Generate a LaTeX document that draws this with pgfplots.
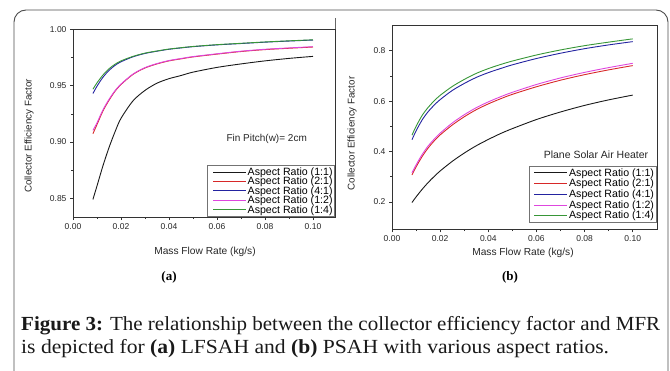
\documentclass[border=0pt]{standalone}
\usepackage{fontspec}
\setmainfont{Liberation Sans}
\newfontfamily\serif{Liberation Serif}
\usepackage{pgfplots}
\pgfplotsset{compat=1.18}
\definecolor{cblack}{RGB}{25,25,25}
\definecolor{cred}{RGB}{215,40,40}
\definecolor{cblue}{RGB}{35,35,160}
\definecolor{cmag}{RGB}{222,70,222}
\definecolor{cgreen}{RGB}{55,150,55}
\pgfplotsset{
  mystyle/.style={
    scale only axis,
    axis line style={black!80, line width=0.8pt},
    tick style={black!80, line width=0.6pt},
    tick align=outside, tick pos=left,
    major tick length=3pt, minor tick length=1.8pt,
    minor tick num=1,
    tick label style={font=\fontsize{8.5}{9}\selectfont, text=black!85},
    /pgf/number format/assume math mode=true,
    xtick={0,0.02,0.04,0.06,0.08,0.1},
    xticklabel style={/pgf/number format/.cd, fixed, fixed zerofill, precision=2},
    scaled ticks=false,
    legend cell align=left,
    legend image code/.code={\draw[##1, line width=1pt] (4pt,0pt) -- (37pt,0pt); \path (0pt,0pt);},
    legend style={draw=black!55, line width=0.5pt, font=\fontsize{10.6}{10.6}\selectfont,
      inner sep=1pt, row sep=-2.1pt, nodes={inner sep=1.2pt}},
    every axis plot/.append style={line width=0.9pt, smooth, no markers},
  }
}
\begin{document}
\begin{tikzpicture}
\path[use as bounding box] (0pt,0pt) rectangle (670pt,370pt);
% frame
\draw[black!70, line width=0.9pt, rounded corners=12pt] (14pt,-10pt) -- (14pt,360pt) -- (668pt,360pt) -- (668pt,-10pt);
\draw[black!60, line width=0.6pt] (335.5pt,352pt) -- (335.5pt,153pt);

% ---------- panel (a)
\begin{axis}[mystyle, at={(73pt,153pt)}, anchor=south west, width=262pt, height=188pt,
  xmin=0, xmax=0.10917, ymin=0.8334, ymax=1.0003,
  ytick={0.85,0.90,0.95,1.00},
  yticklabel style={/pgf/number format/.cd, fixed, fixed zerofill, precision=2},
  legend style={at={(1,0)}, anchor=south east}]
\addplot[cblack] coordinates {(0.0083,0.849)(0.01,0.861)(0.0125,0.879)(0.015,0.895)(0.0175,0.909)(0.02,0.921)(0.025,0.9365)(0.03,0.9458)(0.035,0.9522)(0.04,0.9562)(0.045,0.9590)(0.05,0.9620)(0.06,0.9662)(0.07,0.9693)(0.08,0.9720)(0.09,0.9742)(0.1,0.9760)};
\addlegendentry{Aspect Ratio (1:1)}
\addplot[cred] coordinates {(0.0083,0.9073)(0.01,0.9155)(0.0125,0.9276)(0.015,0.937)(0.0175,0.945)(0.02,0.951)(0.025,0.960)(0.03,0.9657)(0.035,0.9693)(0.04,0.972)(0.045,0.9738)(0.05,0.9755)(0.06,0.978)(0.07,0.9803)(0.08,0.982)(0.09,0.9832)(0.1,0.9843)};
\addlegendentry{Aspect Ratio (2:1)}
\addplot[cblue] coordinates {(0.0083,0.9430)(0.01,0.9495)(0.0125,0.9575)(0.015,0.9635)(0.0175,0.9680)(0.02,0.9712)(0.025,0.9756)(0.03,0.9786)(0.035,0.9806)(0.04,0.9823)(0.045,0.9835)(0.05,0.9846)(0.06,0.9862)(0.07,0.9874)(0.08,0.9886)(0.09,0.9896)(0.1,0.9905)};
\addlegendentry{Aspect Ratio (4:1)}
\addplot[cmag] coordinates {(0.0083,0.9103)(0.01,0.9170)(0.0125,0.9286)(0.015,0.9378)(0.0175,0.9455)(0.02,0.9514)(0.025,0.9603)(0.03,0.9660)(0.035,0.9696)(0.04,0.9723)(0.045,0.9741)(0.05,0.9758)(0.06,0.9783)(0.07,0.9806)(0.08,0.9823)(0.09,0.9835)(0.1,0.9846)};
\addlegendentry{Aspect Ratio (1:2)}
\addplot[cgreen] coordinates {(0.0083,0.9468)(0.01,0.9525)(0.0125,0.9595)(0.015,0.9650)(0.0175,0.9690)(0.02,0.9720)(0.025,0.9760)(0.03,0.9789)(0.035,0.9808)(0.04,0.9825)(0.045,0.9837)(0.05,0.9848)(0.06,0.9864)(0.07,0.9876)(0.08,0.9888)(0.09,0.9898)(0.1,0.9907)};
\addlegendentry{Aspect Ratio (1:4)}
\end{axis}

% ---------- panel (b)
\begin{axis}[mystyle, at={(392pt,140.7pt)}, anchor=south west, width=265.5pt, height=204.3pt,
  xmin=0, xmax=0.1103, ymin=0.0917, ymax=0.902,
  ytick={0.2,0.4,0.6,0.8},
  yticklabel style={/pgf/number format/.cd, fixed, fixed zerofill, precision=1},
  legend style={at={(0.996,0.032)}, anchor=south east, row sep=-0.9pt}]
\addplot[cblack] coordinates {(0.0083,0.198)(0.01,0.220)(0.0125,0.250)(0.015,0.277)(0.0175,0.301)(0.02,0.323)(0.025,0.361)(0.03,0.394)(0.035,0.423)(0.04,0.448)(0.045,0.471)(0.05,0.491)(0.06,0.527)(0.07,0.557)(0.08,0.583)(0.09,0.605)(0.1,0.624)};
\addlegendentry{Aspect Ratio (1:1)}
\addplot[cred] coordinates {(0.0083,0.307)(0.01,0.339)(0.0125,0.380)(0.015,0.414)(0.0175,0.442)(0.02,0.466)(0.025,0.505)(0.03,0.538)(0.035,0.566)(0.04,0.589)(0.045,0.609)(0.05,0.627)(0.06,0.657)(0.07,0.683)(0.08,0.705)(0.09,0.724)(0.1,0.741)};
\addlegendentry{Aspect Ratio (2:1)}
\addplot[cblue] coordinates {(0.0083,0.447)(0.01,0.482)(0.0125,0.525)(0.015,0.558)(0.0175,0.584)(0.02,0.606)(0.025,0.642)(0.03,0.670)(0.035,0.694)(0.04,0.713)(0.045,0.729)(0.05,0.744)(0.06,0.769)(0.07,0.790)(0.08,0.808)(0.09,0.823)(0.1,0.836)};
\addlegendentry{Aspect Ratio (4:1)}
\addplot[cmag] coordinates {(0.0083,0.316)(0.01,0.347)(0.0125,0.388)(0.015,0.422)(0.0175,0.449)(0.02,0.473)(0.025,0.513)(0.03,0.546)(0.035,0.574)(0.04,0.597)(0.045,0.617)(0.05,0.635)(0.06,0.666)(0.07,0.692)(0.08,0.714)(0.09,0.733)(0.1,0.750)};
\addlegendentry{Aspect Ratio (1:2)}
\addplot[cgreen] coordinates {(0.0083,0.465)(0.01,0.500)(0.0125,0.543)(0.015,0.575)(0.0175,0.601)(0.02,0.623)(0.025,0.658)(0.03,0.686)(0.035,0.710)(0.04,0.729)(0.045,0.745)(0.05,0.759)(0.06,0.783)(0.07,0.803)(0.08,0.820)(0.09,0.834)(0.1,0.847)};
\addlegendentry{Aspect Ratio (1:4)}
\end{axis}

% ---------- labels
\node[rotate=90, font=\fontsize{9.8}{10}\selectfont, text=black!85] at (29pt,234pt) {Collector Efficiency Factor};
\node[rotate=90, font=\fontsize{9.8}{10}\selectfont, text=black!85] at (352pt,236.5pt) {Collector Efficiency Factor};
\node[font=\fontsize{10.2}{11}\selectfont, text=black!85] at (205pt,118pt) {Mass Flow Rate (kg/s)};
\node[font=\fontsize{10.2}{11}\selectfont, text=black!85] at (523pt,117pt) {Mass Flow Rate (kg/s)};
\node[font=\fontsize{10}{11}\selectfont, text=black!85] at (266.7pt,230.7pt) {Fin Pitch(w)= 2cm};
\node[font=\fontsize{10.5}{11}\selectfont, text=black!85] at (596pt,215pt) {Plane Solar Air Heater};
\node[font=\serif\bfseries\fontsize{13}{14}\selectfont] at (169pt,93pt) {(a)};
\node[font=\serif\bfseries\fontsize{13}{14}\selectfont] at (510pt,93pt) {(b)};

% ---------- caption
\node[anchor=base west, inner sep=0, font=\serif\fontsize{20}{23}\selectfont, text=black!90, xscale=1.05] at (21pt,40pt) {\textbf{Figure 3:} The relationship between the collector efficiency factor and MFR};
\node[anchor=base west, inner sep=0, font=\serif\fontsize{20}{23}\selectfont, text=black!90, xscale=1.08] at (21pt,17pt) {is depicted for \textbf{(a)} LFSAH and \textbf{(b)} PSAH with various aspect ratios.};
\end{tikzpicture}
\end{document}
